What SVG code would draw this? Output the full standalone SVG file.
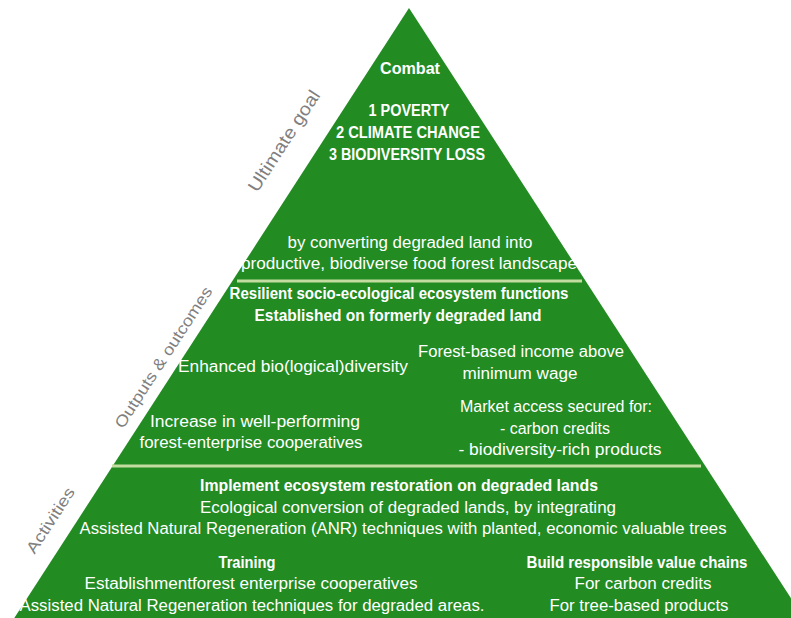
<svg xmlns="http://www.w3.org/2000/svg" width="791" height="618" viewBox="0 0 791 618">
<style>
.t{font-family:"Liberation Sans",Arial,sans-serif;font-size:16px;fill:#ffffff;text-anchor:middle}
.b{font-weight:bold;font-size:16px}
.side{font-family:"Liberation Sans",Arial,sans-serif;font-size:18px;fill:#808080;text-anchor:middle}
.sep{stroke:#c3dca0;stroke-width:3}
</style>
<rect width="791" height="618" fill="#ffffff"/>
<g id="pyramid">
<polygon points="409,8 13,620 805,620" fill="#228b22"/>
</g>
<g id="separators">
<line class="sep" x1="237" y1="281" x2="582" y2="281"/>
<line class="sep" x1="112" y1="466" x2="701" y2="466"/>
</g>
<g id="side-labels">
<text class="side" transform="translate(284,141) rotate(-57)" dy="6" textLength="117" lengthAdjust="spacingAndGlyphs">Ultimate goal</text>
<text class="side" transform="translate(163,357) rotate(-57)" dy="6" textLength="165" lengthAdjust="spacingAndGlyphs" style="font-size:16px">Outputs &amp; outcomes</text>
<text class="side" transform="translate(50,520) rotate(-57)" dy="6" textLength="75" lengthAdjust="spacingAndGlyphs" style="font-size:16px">Activities</text>
</g>
<g id="goal">
<text class="t b" x="410" y="74" textLength="60" lengthAdjust="spacingAndGlyphs">Combat</text>
<text class="t b" x="409" y="116" textLength="81" lengthAdjust="spacingAndGlyphs">1 POVERTY</text>
<text class="t b" x="408" y="138" textLength="144" lengthAdjust="spacingAndGlyphs">2 CLIMATE CHANGE</text>
<text class="t b" x="407" y="160" textLength="156" lengthAdjust="spacingAndGlyphs">3 BIODIVERSITY LOSS</text>
<text class="t" x="410" y="248" textLength="245" lengthAdjust="spacingAndGlyphs">by converting degraded land into</text>
<text class="t" x="409" y="269" textLength="336" lengthAdjust="spacingAndGlyphs">productive, biodiverse food forest landscape</text>
</g>
<g id="outcomes">
<text class="t b" x="399" y="299" textLength="339" lengthAdjust="spacingAndGlyphs">Resilient socio-ecological ecosystem functions</text>
<text class="t b" x="398" y="321" textLength="287" lengthAdjust="spacingAndGlyphs">Established on formerly degraded land</text>
</g>
<g id="biodiversity">
<text class="t" x="293" y="372" textLength="230" lengthAdjust="spacingAndGlyphs">Enhanced bio(logical)diversity</text>
</g>
<g id="income">
<text class="t" x="521" y="357" textLength="206" lengthAdjust="spacingAndGlyphs">Forest-based income above</text>
<text class="t" x="520" y="379" textLength="115" lengthAdjust="spacingAndGlyphs">minimum wage</text>
</g>
<g id="cooperatives">
<text class="t" x="255" y="427" textLength="210" lengthAdjust="spacingAndGlyphs">Increase in well-performing</text>
<text class="t" x="251" y="448" textLength="223" lengthAdjust="spacingAndGlyphs">forest-enterprise cooperatives</text>
</g>
<g id="market">
<text class="t" x="556" y="412" textLength="192" lengthAdjust="spacingAndGlyphs">Market access secured for:</text>
<text class="t" x="555" y="434" textLength="110" lengthAdjust="spacingAndGlyphs">- carbon credits</text>
<text class="t" x="560" y="455" textLength="203" lengthAdjust="spacingAndGlyphs">- biodiversity-rich products</text>
</g>
<g id="restoration">
<text class="t b" x="399" y="491" textLength="398" lengthAdjust="spacingAndGlyphs">Implement ecosystem restoration on degraded lands</text>
<text class="t" x="408" y="513" textLength="416" lengthAdjust="spacingAndGlyphs">Ecological conversion of degraded lands, by integrating</text>
<text class="t" x="403" y="534" textLength="647" lengthAdjust="spacingAndGlyphs">Assisted Natural Regeneration (ANR) techniques with planted, economic valuable trees</text>
</g>
<g id="training">
<text class="t b" x="247" y="568" textLength="57" lengthAdjust="spacingAndGlyphs">Training</text>
<text class="t" x="251" y="589" textLength="333" lengthAdjust="spacingAndGlyphs">Establishmentforest enterprise cooperatives</text>
<text class="t" x="252" y="611" textLength="465" lengthAdjust="spacingAndGlyphs">Assisted Natural Regeneration techniques for degraded areas.</text>
</g>
<g id="value-chains">
<text class="t b" x="637" y="568" textLength="221" lengthAdjust="spacingAndGlyphs">Build responsible value chains</text>
<text class="t" x="643" y="589" textLength="137" lengthAdjust="spacingAndGlyphs">For carbon credits</text>
<text class="t" x="639" y="611" textLength="179" lengthAdjust="spacingAndGlyphs">For tree-based products</text>
</g>
</svg>
